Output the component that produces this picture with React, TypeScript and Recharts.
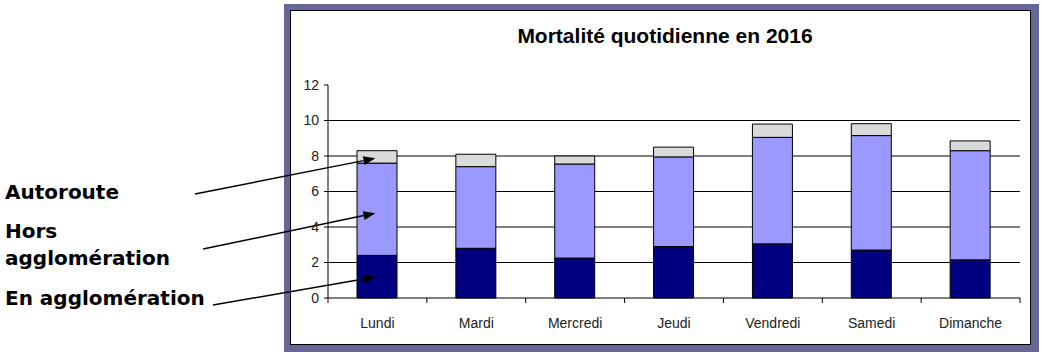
import React from 'react';
import { BarChart, Bar, XAxis, YAxis, CartesianGrid, ReferenceDot } from 'recharts';

const days = ['Lundi', 'Mardi', 'Mercredi', 'Jeudi', 'Vendredi', 'Samedi', 'Dimanche'];
const enAgglomeration = [2.4, 2.8, 2.25, 2.9, 3.05, 2.7, 2.15];
const horsAgglomeration = [5.2, 4.6, 5.3, 5.05, 6.0, 6.45, 6.15];
const autoroute = [0.7, 0.7, 0.45, 0.55, 0.75, 0.67, 0.55];
const yTicks = [0, 2, 4, 6, 8, 10, 12];
const gridValues = [2, 4, 6, 8, 10];

// annotation arrows: target value on the Lundi bar and start point of the arrow
const arrowTargets = [7.87, 4.78, 1.18];
const arrowStarts = [
  [195, 194],
  [203, 249],
  [213, 305],
];

const data = days.map((d, i) => ({
  day: d,
  en: enAgglomeration[i],
  hors: horsAgglomeration[i],
  auto: autoroute[i],
}));

const W = 1041;
const H = 355;
const M = { top: 85, right: 21, left: 288, bottom: 27 };
const Y_AXIS_W = 40;
const X_AXIS_H = 30;
const plotWidth = W - M.left - M.right - Y_AXIS_W;
const step = plotWidth / days.length;

const XTick = (props: any) => {
  const { x, y, payload, index } = props;
  const isLast = index === days.length - 1;
  return (
    <g>
      <line x1={x - step / 2} x2={x - step / 2} y1={y} y2={y + 5} stroke="#000" strokeWidth={1} />
      {isLast && <line x1={x + step / 2} x2={x + step / 2} y1={y} y2={y + 5} stroke="#000" strokeWidth={1} />}
      <text x={x} y={y + 30} textAnchor="middle" fontFamily="'Liberation Sans', Arial, sans-serif" fontSize={14} fill="#222">
        {payload.value}
      </text>
    </g>
  );
};

const makeArrow = (sx: number, sy: number) => (props: any) => {
  const cx = props.cx - 2;
  const cy = props.cy;
  const dx = cx - sx;
  const dy = cy - sy;
  const len = Math.sqrt(dx * dx + dy * dy);
  const ux = dx / len;
  const uy = dy / len;
  const hl = 12;
  const hw = 4.5;
  const bx = cx - ux * hl;
  const by = cy - uy * hl;
  const px = -uy;
  const py = ux;
  return (
    <g>
      <line x1={sx} y1={sy} x2={bx} y2={by} stroke="#000" strokeWidth={1.5} />
      <polygon
        points={`${cx},${cy} ${bx + px * hw},${by + py * hw} ${bx - px * hw},${by - py * hw}`}
        fill="#000"
      />
    </g>
  );
};

const labelFont = "'DejaVu Sans', Verdana, sans-serif";

export default function App() {
  return (
    <div style={{ position: 'absolute', left: 0, top: 0, width: W, height: H, background: '#fff' }}>
      <div style={{ position: 'absolute', left: 284, top: 4, width: 755, height: 348, background: '#666699' }} />
      <div
        style={{
          position: 'absolute',
          left: 290,
          top: 10,
          width: 741,
          height: 335,
          background: '#fff',
          border: '1.5px solid #000',
          boxSizing: 'border-box',
        }}
      />
      <svg style={{ position: 'absolute', left: 0, top: 0 }} width={W} height={H}>
        <text x={665} y={43} textAnchor="middle" fontFamily="'Liberation Sans', Arial, sans-serif" fontWeight="bold" fontSize={21} fill="#000">
          Mortalité quotidienne en 2016
        </text>
        <g fontFamily={labelFont} fontWeight="bold" fontSize={20} fill="#000">
          <text x={5} y={199}>Autoroute</text>
          <text x={5} y={238}>Hors</text>
          <text x={5} y={265}>agglomération</text>
          <text x={5} y={305}>En agglomération</text>
        </g>
      </svg>
      <div style={{ position: 'absolute', left: 0, top: 0 }}>
        <BarChart width={W} height={H} data={data} margin={M} barSize={40}>
          <CartesianGrid vertical={false} horizontalValues={gridValues} stroke="#000" strokeWidth={1} />
          <XAxis
            dataKey="day"
            interval={0}
            height={X_AXIS_H}
            tickLine={false}
            tickSize={0}
            tickMargin={0}
            axisLine={{ stroke: '#000', strokeWidth: 1 }}
            tick={<XTick />}
          />
          <YAxis
            width={Y_AXIS_W}
            domain={[0, 12]}
            ticks={yTicks}
            interval={0}
            tickSize={4}
            tickMargin={5}
            tickLine={{ stroke: '#000' }}
            axisLine={{ stroke: '#000', strokeWidth: 1 }}
            tick={{ fontFamily: "'Liberation Sans', Arial, sans-serif", fontSize: 14, fill: '#222' }}
          />
          <Bar dataKey="en" stackId="a" fill="#000080" stroke="#000" strokeWidth={1} isAnimationActive={false} />
          <Bar dataKey="hors" stackId="a" fill="#9999FF" stroke="#000" strokeWidth={1} isAnimationActive={false} />
          <Bar dataKey="auto" stackId="a" fill="#DADADA" stroke="#000" strokeWidth={1} isAnimationActive={false} />
          {arrowTargets.map((t, i) => (
            <ReferenceDot
              key={i}
              x={days[0]}
              y={t}
              ifOverflow="visible"
              shape={makeArrow(arrowStarts[i][0], arrowStarts[i][1])}
            />
          ))}
        </BarChart>
      </div>
    </div>
  );
}
